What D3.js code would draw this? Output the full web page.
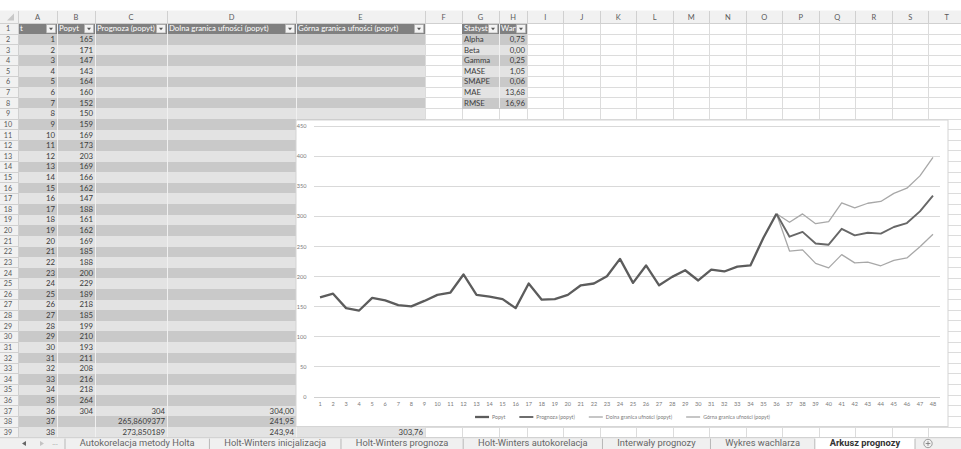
<!DOCTYPE html>
<html><head><meta charset="utf-8">
<script src="https://cdn.jsdelivr.net/npm/d3@7"></script>
<style>body{margin:0;background:#fff;overflow:hidden}svg{display:block}</style>
</head><body><svg id="c" width="961" height="449"></svg>
<script>
// ---------- DATA ----------
const columnLetters = ["A","B","C","D","E","F","G","H","I","J","K","L","M","N","O","P","Q","R","S","T"];
const tableHeaders = ["t","Popyt","Prognoza (popyt)","Dolna granica ufności (popyt)","Górna granica ufności (popyt)"];
const periods = [1,2,3,4,5,6,7,8,9,10,11,12,13,14,15,16,17,18,19,20,21,22,23,24,25,26,27,28,29,30,31,32,33,34,35,36,37,38,39,40,41,42,43,44,45,46,47,48];
const popyt = [165,171,147,143,164,160,152,150,159,169,173,203,169,166,162,147,188,161,162,169,185,188,200,229,189,218,185,199,210,193,211,208,216,218,264,304];
const forecastPeriods = [36,37,38,39,40,41,42,43,44,45,46,47,48];
const prognoza = [304,265.8609377,273.850189,254.5,252.5,279,268,272.5,271,282,288.5,308,334];
const dolna = [304,241.95,243.94,221.5,214,236,222.3,223.5,217.5,226.5,230.5,249,270];
const gorna = [304,289.77,303.76,287.5,291,322,313.7,321.5,324.5,338,346.5,367,398];
const statHeaders = ["Statystyka","Wartość"];
const statNames = ["Alpha","Beta","Gamma","MASE","SMAPE","MAE","RMSE"];
const statValues = [0.75,0.00,0.25,1.05,0.06,13.68,16.96];
const yTicks = [0,50,100,150,200,250,300,350,400,450];
const seriesNames = ["Popyt","Prognoza (popyt)","Dolna granica ufności (popyt)","Górna granica ufności (popyt)"];
const sheetTabs = ["Autokorelacja metody Holta","Holt-Winters inicjalizacja","Holt-Winters prognoza","Holt-Winters autokorelacja","Interwały prognozy","Wykres wachlarza","Arkusz prognozy"];
const activeTab = "Arkusz prognozy";

// ---------- LAYOUT ----------
const svg = d3.select("#c");
const W = 961, H = 449;
const colEdges = [18,57,95,167,296,425,462,499,527,563.5,600,636.5,673,709.5,746,782.5,819,855.5,892,928.5,965];
const headTop = 10.5, headBot = 23.5, rowH = 10.62, nRows = 39;
const rowTop = r => headBot + (r - 1) * rowH;
const gridBottom = rowTop(nRows + 1);
const cellFont = "Lato, 'Liberation Sans', sans-serif";
const comma = (v, d) => (d === undefined ? String(v) : v.toFixed(d)).replace(".", ",");

svg.append("rect").attr("width", W).attr("height", H).attr("fill", "#fff");

// grid lines
const grid = svg.append("g").attr("stroke", "#dcdcdc").attr("stroke-width", 1).attr("shape-rendering", "crispEdges");
for (let r = 2; r <= nRows + 1; r++) grid.append("line").attr("x1", 18).attr("x2", W).attr("y1", rowTop(r)).attr("y2", rowTop(r));
colEdges.forEach(x => grid.append("line").attr("x1", x).attr("x2", x).attr("y1", headBot).attr("y2", gridBottom));

// table fills
function band(colFrom, colTo, rowFrom, rowTo) {
  for (let r = rowFrom; r <= rowTo; r++) {
    const fill = r === 1 ? "#808080" : (r % 2 === 0 ? "#c9c9c9" : "#e3e3e3");
    svg.append("rect").attr("x", colEdges[colFrom]).attr("y", rowTop(r))
      .attr("width", colEdges[colTo + 1] - colEdges[colFrom]).attr("height", rowH + 0.3)
      .attr("fill", fill).attr("shape-rendering", "crispEdges");
  }
  for (let c = colFrom + 1; c <= colTo; c++) {
    svg.append("line").attr("x1", colEdges[c]).attr("x2", colEdges[c]).attr("y1", rowTop(1)).attr("y2", rowTop(rowTo + 1))
      .attr("stroke", "#f0f0f0").attr("stroke-width", 1).attr("shape-rendering", "crispEdges");
  }
}
band(0, 4, 1, nRows);
band(6, 7, 1, 8);

// header cells with filter buttons
const defs = svg.append("defs");
function headerCell(c, text) {
  const x0 = colEdges[c], x1 = colEdges[c + 1], y0 = rowTop(1);
  const id = "clip" + c;
  defs.append("clipPath").attr("id", id).append("rect").attr("x", x0).attr("y", y0).attr("width", x1 - x0 - 11).attr("height", rowH);
  svg.append("text").attr("x", x0 + 2).attr("y", y0 + rowH - 2.8).attr("clip-path", `url(#${id})`)
    .attr("font-family", cellFont).attr("font-size", 7.8).attr("fill", "#fff").text(text);
  svg.append("rect").attr("x", x1 - 10.5).attr("y", y0 + 1.2).attr("width", 9).attr("height", rowH - 2.4)
    .attr("fill", "#f3f3f3").attr("stroke", "#b0b0b0").attr("stroke-width", 0.5);
  const cx = x1 - 6, cy = y0 + rowH / 2;
  svg.append("path").attr("d", `M${cx - 2},${cy - 1}L${cx + 2},${cy - 1}L${cx},${cy + 1.5}Z`).attr("fill", "#555");
}
tableHeaders.forEach((h, i) => headerCell(i, h));
statHeaders.forEach((h, i) => headerCell(6 + i, h));

// cell values
function cellText(c, r, text, align) {
  const x = align === "left" ? colEdges[c] + 2 : colEdges[c + 1] - 2;
  svg.append("text").attr("x", x).attr("y", rowTop(r) + rowH - 2.8)
    .attr("text-anchor", align === "left" ? "start" : "end")
    .attr("font-family", cellFont).attr("font-size", 7.8).attr("fill", "#3c3c3c").text(text);
}
for (let r = 2; r <= nRows; r++) cellText(0, r, periods[r - 2]);
popyt.forEach((v, i) => cellText(1, i + 2, v));
forecastPeriods.forEach((t, i) => {
  const r = t + 1;
  if (r > nRows) return;
  cellText(2, r, comma(prognoza[i]));
  cellText(3, r, comma(dolna[i], 2));
  cellText(4, r, comma(gorna[i], 2));
});
statNames.forEach((n, i) => { cellText(6, i + 2, n, "left"); cellText(7, i + 2, comma(statValues[i], 2)); });

// column headers
svg.append("rect").attr("x", 0).attr("y", headTop).attr("width", W).attr("height", headBot - headTop).attr("fill", "#f1f1f1");
svg.append("rect").attr("x", 0).attr("y", headBot).attr("width", 18).attr("height", gridBottom - headBot).attr("fill", "#f1f1f1");
const hdr = svg.append("g").attr("stroke", "#d0d0d0").attr("shape-rendering", "crispEdges");
hdr.append("line").attr("x1", 0).attr("x2", W).attr("y1", headBot).attr("y2", headBot);
hdr.append("line").attr("x1", 18).attr("x2", 18).attr("y1", headTop).attr("y2", gridBottom);
colEdges.forEach(x => hdr.append("line").attr("x1", x).attr("x2", x).attr("y1", headTop).attr("y2", headBot));
for (let r = 2; r <= nRows + 1; r++) hdr.append("line").attr("x1", 0).attr("x2", 18).attr("y1", rowTop(r)).attr("y2", rowTop(r));
columnLetters.forEach((l, i) => {
  svg.append("text").attr("x", (colEdges[i] + colEdges[i + 1]) / 2).attr("y", headTop + 9.3).attr("text-anchor", "middle")
    .attr("font-family", cellFont).attr("font-size", 7.5).attr("fill", "#5a5a5a").text(l);
});
for (let r = 1; r <= nRows; r++) {
  svg.append("text").attr("x", 8).attr("y", rowTop(r) + rowH - 2.8).attr("text-anchor", "middle")
    .attr("font-family", cellFont).attr("font-size", 7.2).attr("fill", "#5a5a5a").text(r);
}
svg.append("path").attr("d", "M14,13.5L14,20.5L7,20.5Z").attr("fill", "#c8c8c8");

// ---------- CHART ----------
const chart = svg.append("g");
const cx0 = 296, cy0 = 120, cx1 = 948, cy1 = rowTop(39) - 0.5;
chart.append("rect").attr("x", cx0).attr("y", cy0).attr("width", cx1 - cx0).attr("height", cy1 - cy0)
  .attr("fill", "#fff").attr("stroke", "#d4d4d4").attr("stroke-width", 1);
const plotL = 313.5, plotR = 939.5, plotT = 126, plotB = 396.5;
const x = d3.scaleBand().domain(periods).range([plotL, plotR]);
const y = d3.scaleLinear().domain([0, 450]).range([plotB, plotT]);
const px = t => x(t) + x.bandwidth() / 2;
const chartFont = "Lato, 'Liberation Sans', sans-serif";

const yAxis = chart.append("g").attr("transform", `translate(${plotL},0)`)
  .call(d3.axisLeft(y).tickValues(yTicks).tickSize(-(plotR - plotL)).tickPadding(7));
yAxis.select(".domain").remove();
yAxis.selectAll("line").attr("stroke", "#d9d9d9").attr("shape-rendering", "crispEdges");
yAxis.selectAll("text").attr("font-family", chartFont).attr("font-size", 5.6).attr("fill", "#7a7a7a");

const xAxis = chart.append("g").attr("transform", `translate(0,${plotB})`)
  .call(d3.axisBottom(x).tickSize(0).tickPadding(6));
xAxis.select(".domain").attr("stroke", "#d0d0d0").attr("shape-rendering", "crispEdges");
xAxis.selectAll("text").attr("font-family", chartFont).attr("font-size", 5.6).attr("fill", "#7a7a7a");

const line = d3.line().x(d => px(d[0])).y(d => y(d[1]));
const styles = [
  { color: "#5c5c5c", w: 2.3 },
  { color: "#676767", w: 1.9 },
  { color: "#a8a8a8", w: 1.3 },
  { color: "#a8a8a8", w: 1.3 }
];
const seriesData = [
  popyt.map((v, i) => [periods[i], v]),
  forecastPeriods.map((t, i) => [t, prognoza[i]]),
  forecastPeriods.map((t, i) => [t, dolna[i]]),
  forecastPeriods.map((t, i) => [t, gorna[i]])
];
[3, 2, 1, 0].forEach(k => {
  chart.append("path").datum(seriesData[k]).attr("d", line).attr("fill", "none")
    .attr("stroke", styles[k].color).attr("stroke-width", styles[k].w).attr("stroke-linejoin", "round");
});

// legend
const leg = chart.append("g");
let lx = 0;
const legY = 417;
seriesNames.forEach((n, k) => {
  const g = leg.append("g");
  g.append("line").attr("x1", lx).attr("x2", lx + 14).attr("y1", legY).attr("y2", legY)
    .attr("stroke", styles[k].color).attr("stroke-width", styles[k].w);
  const t = g.append("text").attr("x", lx + 17).attr("y", legY + 1.8).attr("font-family", chartFont)
    .attr("font-size", 5.2).attr("fill", "#7a7a7a").text(n);
  lx += 17 + t.node().getComputedTextLength() + 14;
});
const legW = lx - 14;
leg.attr("transform", `translate(${(plotL + plotR) / 2 - legW / 2 - 4},0)`);

// ---------- SHEET TABS ----------
const tabTop = rowTop(40);
svg.append("rect").attr("x", 0).attr("y", tabTop).attr("width", W).attr("height", H - tabTop).attr("fill", "#f0f0f0");
svg.append("line").attr("x1", 0).attr("x2", W).attr("y1", tabTop).attr("y2", tabTop).attr("stroke", "#cfcfcf");
const tabFont = "Roboto, 'Noto Sans', sans-serif";
const tabY = 446.2;
svg.append("path").attr("d", "M22,443.5L26,441L26,446Z").attr("fill", "#666");
svg.append("path").attr("d", "M40,441L44,443.5L40,446Z").attr("fill", "#c4c4c4");
svg.append("text").attr("x", 55).attr("y", tabY - 1).attr("text-anchor", "middle").attr("font-family", tabFont).attr("font-size", 7).attr("fill", "#888").text("...");
const tabStart = 65, tabEnd = 915;
const tabTexts = sheetTabs.map(s => svg.append("text").attr("font-family", tabFont).attr("font-size", 9.3)
  .attr("font-weight", s === activeTab ? "bold" : "normal").attr("fill", s === activeTab ? "#333" : "#666").attr("y", tabY).text(s));
const widths = tabTexts.map(t => t.node().getComputedTextLength());
const pad = (tabEnd - tabStart - d3.sum(widths)) / (2 * sheetTabs.length);
let tx = tabStart;
sheetTabs.forEach((s, i) => {
  const w = widths[i] + 2 * pad;
  if (s === activeTab) {
    svg.append("rect").attr("x", tx).attr("y", tabTop + 0.5).attr("width", w).attr("height", H - tabTop).attr("fill", "#fff");
  }
  svg.append("line").attr("x1", tx).attr("x2", tx).attr("y1", tabTop + 1).attr("y2", H).attr("stroke", "#b8b8b8");
  tabTexts[i].attr("x", tx + pad);
  tx += w;
});
svg.append("line").attr("x1", tx).attr("x2", tx).attr("y1", tabTop + 1).attr("y2", H).attr("stroke", "#b8b8b8");
svg.append("circle").attr("cx", 928).attr("cy", 443.5).attr("r", 4.2).attr("fill", "none").attr("stroke", "#888").attr("stroke-width", 0.8);
svg.append("path").attr("d", "M925.7,443.5H930.3M928,441.2V445.8").attr("stroke", "#777").attr("stroke-width", 0.8);
tabTexts.forEach(t => t.raise());
</script></body></html>
